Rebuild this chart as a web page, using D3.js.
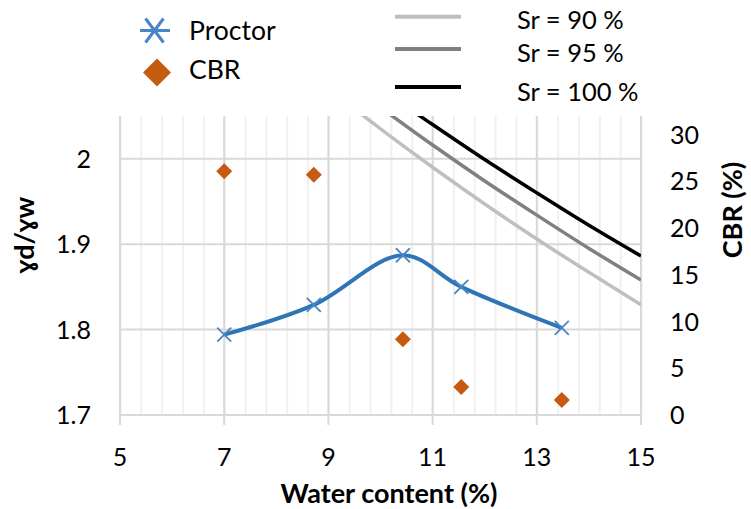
<!DOCTYPE html>
<html>
<head>
<meta charset="utf-8">
<script src="https://cdn.jsdelivr.net/npm/d3@7"></script>
<style>
  body { margin: 0; background: #fff; }
  text { font-family: Lato, "DejaVu Sans", sans-serif; fill: #000; }
</style>
</head>
<body>
<svg id="chart" width="751" height="509"></svg>
<script>
// values
const proctorW = [7.0, 8.72, 10.43, 11.55, 13.48];
const proctorG = [1.794, 1.829, 1.887, 1.850, 1.802];
const cbrW = [7.0, 8.72, 10.43, 11.55, 13.48];
const cbrV = [26.1, 25.7, 8.1, 3.0, 1.6];
const srW = [9, 10, 11, 12, 13, 14, 15];
const sr90 = [2.082, 2.035, 1.990, 1.947, 1.906, 1.867, 1.829];
const sr95 = [2.105, 2.060, 2.016, 1.974, 1.934, 1.895, 1.858];
const sr100 = [2.127, 2.082, 2.040, 1.999, 1.960, 1.922, 1.886];
const xTicks = [5, 7, 9, 11, 13, 15];
const yTicks = [1.7, 1.8, 1.9, 2];
const y2Ticks = [0, 5, 10, 15, 20, 25, 30];

const width = 751, height = 509;
const margin = { top: 116, right: 110, bottom: 94, left: 120 };
const w = width - margin.left - margin.right,
      h = height - margin.top - margin.bottom;

const svg = d3.select("#chart");

const x = d3.scaleLinear().domain([5, 15]).range([0, w]);
const y = d3.scaleLinear().domain([1.7, 2.05]).range([h, 0]);
const y2 = d3.scaleLinear().domain([0, 32]).range([h, 0]);

const defs = svg.append("defs");
defs.append("clipPath").attr("id", "plot-clip")
  .append("rect").attr("width", w).attr("height", h);
const grad = defs.append("linearGradient").attr("id", "axis-blue")
  .attr("x1", 0).attr("x2", 0).attr("y1", 0).attr("y2", 1);
grad.append("stop").attr("offset", "0%").attr("stop-color", "#9dc3e6");
grad.append("stop").attr("offset", "100%").attr("stop-color", "#f2f7fc");

const g = svg.append("g")
  .attr("transform", `translate(${ margin.left }, ${ margin.top })`);

// minor vertical grid every 0.4
g.selectAll("line.minor")
  .data(d3.range(0, 26).map(i => 5 + i * 0.4))
  .join("line")
    .attr("class", "minor")
    .attr("x1", d => x(d) + 0.5).attr("x2", d => x(d) + 0.5)
    .attr("y1", 0).attr("y2", h)
    .attr("stroke", "#f0f0f0").attr("stroke-width", 2);

g.selectAll("line.vmajor")
  .data(xTicks)
  .join("line")
    .attr("class", "vmajor")
    .attr("x1", d => x(d)).attr("x2", d => x(d))
    .attr("y1", 0).attr("y2", h + 10)
    .attr("stroke", "#d9d9d9").attr("stroke-width", 2);

g.selectAll("line.hmajor")
  .data(yTicks)
  .join("line")
    .attr("class", "hmajor")
    .attr("x1", 0).attr("x2", w)
    .attr("y1", d => y(d)).attr("y2", d => y(d))
    .attr("stroke", "#d9d9d9").attr("stroke-width", 2);

// right (secondary) axis line
g.append("line")
  .attr("x1", w).attr("x2", w).attr("y1", 0).attr("y2", h + 10)
  .attr("stroke", "url(#axis-blue)").attr("stroke-width", 2.5);

// saturation lines
const srLine = vals => d3.line()
  .x((d, i) => x(srW[i]))
  .y(d => y(d))
  .curve(d3.curveCatmullRom)(vals);

const srSeries = [
  { name: "Sr = 90 %", vals: sr90, color: "#bfbfbf" },
  { name: "Sr = 95 %", vals: sr95, color: "#808080" },
  { name: "Sr = 100 %", vals: sr100, color: "#000000" }
];

g.append("g").attr("clip-path", "url(#plot-clip)")
  .selectAll("path")
  .data(srSeries)
  .join("path")
    .attr("d", d => srLine(d.vals))
    .attr("fill", "none")
    .attr("stroke", d => d.color)
    .attr("stroke-width", 3.5);

// proctor curve
const blue = "#2e75b6";
const proctor = proctorW.map((v, i) => [v, proctorG[i]]);
g.append("path")
  .attr("d", d3.line().x(d => x(d[0])).y(d => y(d[1])).curve(d3.curveCatmullRom)(proctor))
  .attr("fill", "none")
  .attr("stroke", blue)
  .attr("stroke-width", 4);

const xMark = (cx, cy, sx, sy) =>
  `M${ cx - sx },${ cy - sy }L${ cx + sx },${ cy + sy }M${ cx - sx },${ cy + sy }L${ cx + sx },${ cy - sy }`;

g.selectAll("path.pmark")
  .data(proctor)
  .join("path")
    .attr("class", "pmark")
    .attr("d", d => xMark(x(d[0]), y(d[1]), 7, 7))
    .attr("stroke", "#4a86c5")
    .attr("stroke-width", 1.8)
    .attr("fill", "none");

// CBR diamonds (secondary axis)
const orange = "#c55a11";
const diamond = (cx, cy, r) => `M${ cx },${ cy - r }L${ cx + r },${ cy }L${ cx },${ cy + r }L${ cx - r },${ cy }Z`;
g.selectAll("path.cbr")
  .data(cbrW.map((v, i) => [v, cbrV[i]]))
  .join("path")
    .attr("class", "cbr")
    .attr("d", d => diamond(x(d[0]), y2(d[1]), 8))
    .attr("fill", orange);

// tick labels
const tickSize = 25;
g.selectAll("text.xt")
  .data(xTicks)
  .join("text")
    .attr("class", "xt")
    .attr("x", d => x(d)).attr("y", h + 51)
    .attr("text-anchor", "middle")
    .attr("font-size", tickSize)
    .text(d => d);

g.selectAll("text.yt")
  .data(yTicks)
  .join("text")
    .attr("class", "yt")
    .attr("x", -29).attr("y", d => y(d))
    .attr("dy", "0.36em")
    .attr("text-anchor", "end")
    .attr("font-size", tickSize)
    .text(d => d3.format("")(d));

g.selectAll("text.y2t")
  .data(y2Ticks)
  .join("text")
    .attr("class", "y2t")
    .attr("x", w + 29).attr("y", d => y2(d))
    .attr("dy", "0.36em")
    .attr("text-anchor", "start")
    .attr("font-size", tickSize)
    .text(d => d);

// axis titles
svg.append("text")
  .attr("x", 389).attr("y", 503)
  .attr("text-anchor", "middle")
  .attr("font-size", 27).attr("font-weight", "bold")
  .text("Water content (%)");

svg.append("text")
  .attr("transform", "translate(34, 235) rotate(-90)")
  .attr("text-anchor", "middle")
  .attr("font-size", 27).attr("font-weight", "bold")
  .text("ɣd/ɣw");

svg.append("text")
  .attr("transform", "translate(742, 210) rotate(-90)")
  .attr("text-anchor", "middle")
  .attr("font-size", 27).attr("font-weight", "bold")
  .text("CBR (%)");

// legend
const legend = svg.append("g");
legend.append("line")
  .attr("x1", 140).attr("x2", 170).attr("y1", 30.5).attr("y2", 30.5)
  .attr("stroke", "#4a86c5").attr("stroke-width", 3);
legend.append("path")
  .attr("d", xMark(154.5, 30.5, 9, 12))
  .attr("stroke", "#4a86c5").attr("stroke-width", 3).attr("fill", "none");
legend.append("path")
  .attr("d", diamond(157, 72.5, 14))
  .attr("fill", orange);
legend.append("text").attr("x", 189).attr("y", 39.5).attr("font-size", 26.5).text("Proctor");
legend.append("text").attr("x", 189).attr("y", 78.5).attr("font-size", 26.5).text("CBR");

const srLegY = [16.7, 49, 87];
const srTextY = [28.5, 61.5, 100.5];
legend.selectAll("line.sr")
  .data(srSeries)
  .join("line")
    .attr("class", "sr")
    .attr("x1", 395).attr("x2", 461)
    .attr("y1", (d, i) => srLegY[i]).attr("y2", (d, i) => srLegY[i])
    .attr("stroke", d => d.color).attr("stroke-width", 4);
legend.selectAll("text.sr")
  .data(srSeries)
  .join("text")
    .attr("class", "sr")
    .attr("x", 517).attr("y", (d, i) => srTextY[i])
    .attr("font-size", 25.5)
    .text(d => d.name);
</script>
</body>
</html>
